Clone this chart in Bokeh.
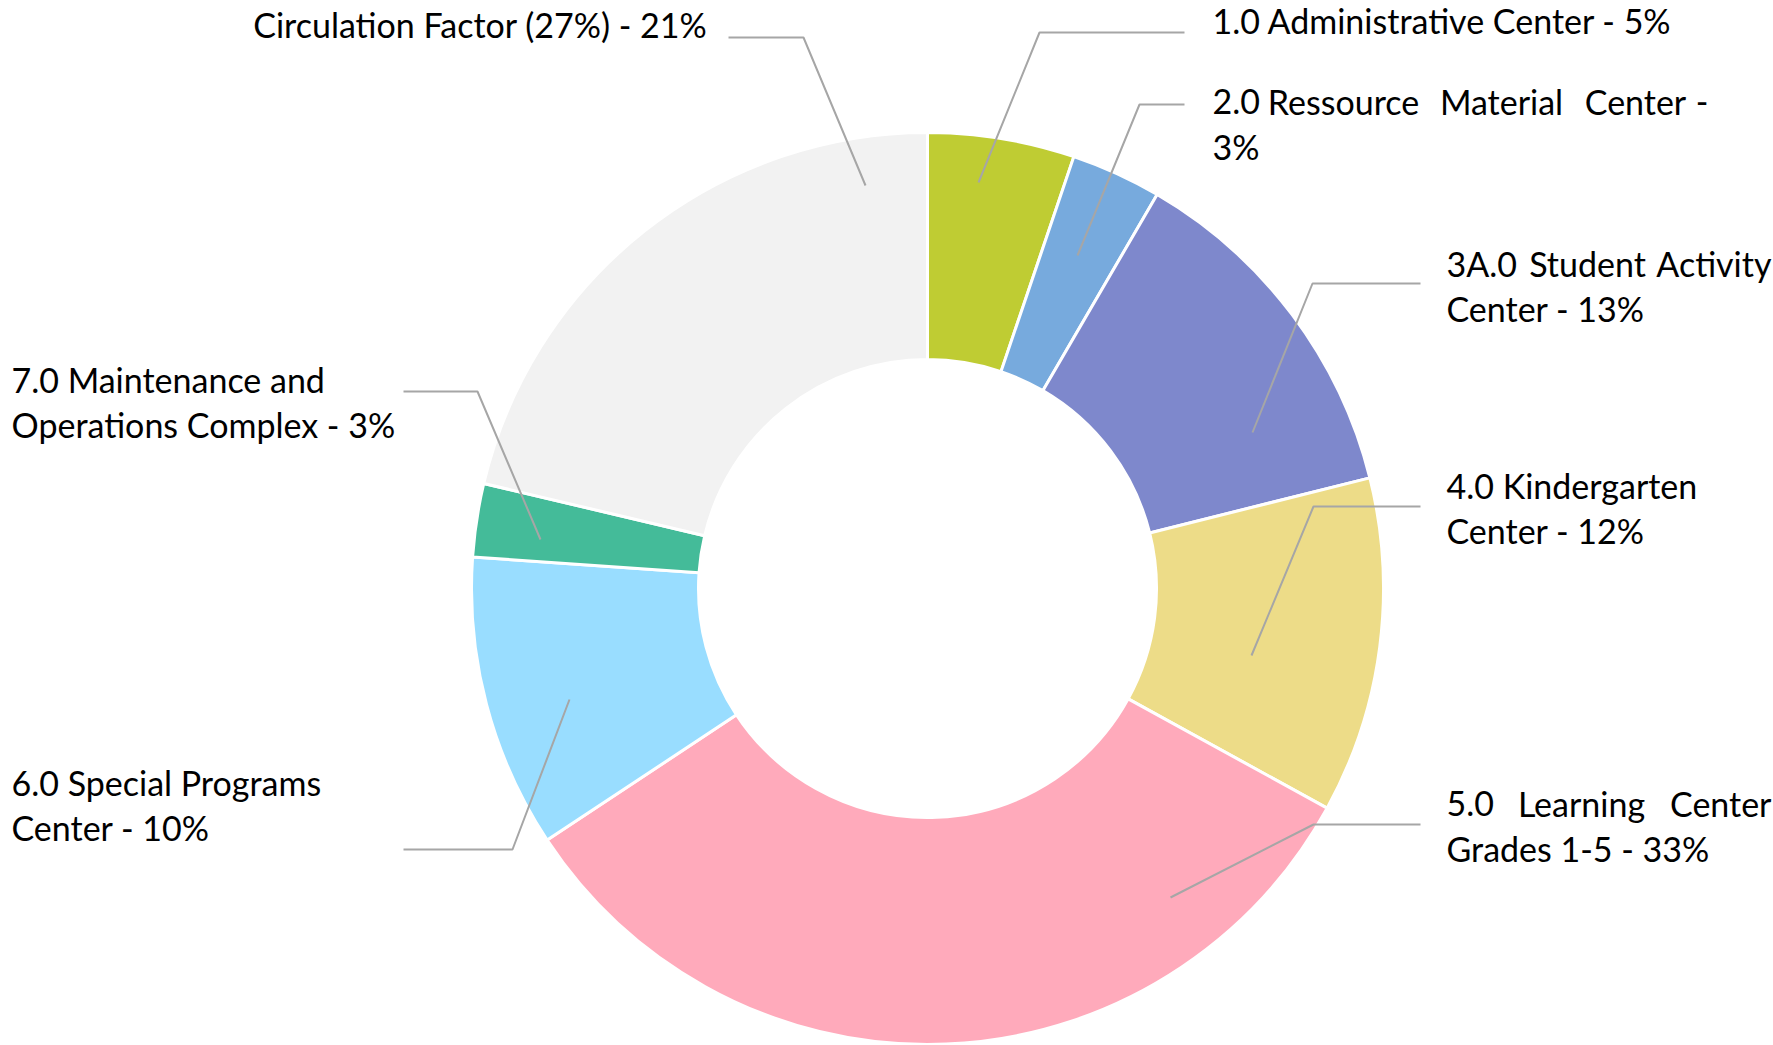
import math
from bokeh.plotting import figure
from bokeh.models import Range1d, ColumnDataSource
from bokeh.core.properties import value
from bokeh.embed import file_html
from bokeh.resources import INLINE

# ---------------- data ----------------
categories = [
    "1.0 Administrative Center",
    "2.0 Ressource Material Center",
    "3A.0 Student Activity Center",
    "4.0 Kindergarten Center",
    "5.0 Learning Center Grades 1-5",
    "6.0 Special Programs Center",
    "7.0 Maintenance and Operations Complex",
    "Circulation Factor (27%)",
]
# slice shares (%) as read from the slice boundaries
shares = [5.2, 3.2, 12.7, 11.9, 32.7, 10.4, 2.6, 21.3]
colors = ["#BFCC33", "#77AADD", "#7E88CC", "#EDDC88",
          "#FFAABB", "#99DDFF", "#44BB99", "#F2F2F2"]
label_lines = [
    ["1.0 Administrative Center - 5%"],
    ["2.0 Ressource Material Center -", "3%"],
    ["3A.0 Student Activity", "Center - 13%"],
    ["4.0 Kindergarten", "Center - 12%"],
    ["5.0 Learning Center", "Grades 1-5 - 33%"],
    ["6.0 Special Programs", "Center - 10%"],
    ["7.0 Maintenance and", "Operations Complex - 3%"],
    ["Circulation Factor (27%) - 21%"],
]

# ---------------- layout (image pixels, y down) ----------------
W, H = 1773, 1045
def Y(py):
    return H - py

CX, CY = 927, 588
R_OUT, R_IN = 456, 229
FONT = "Lato"
FSIZE = "34px"
LINE_GAP = 45

# (x, first baseline, align)
label_pos = [
    (1212, 20, "left"),
    (1212, 101, "left"),
    (1446, 263, "left"),
    (1446, 485, "left"),
    (1446, 803, "left"),
    (11, 782, "left"),
    (11, 379, "left"),
    (707, 24, "right"),
]
# justified first lines: label index -> (right edge, centers of middle words)
justify = {
    1: (1708, [1343, 1501, 1635]),
    2: (1771, [1587]),
    4: (1771, [1581]),
}
leaders = [
    [(1184, 32), (1039, 32), (978, 182)],
    [(1184, 104), (1139, 104), (1077, 255)],
    [(1420, 283), (1312, 283), (1252, 432)],
    [(1420, 506), (1313, 506), (1251, 655)],
    [(1420, 824), (1313, 824), (1170, 897)],
    [(403, 849), (512, 849), (569, 699)],
    [(403, 391), (477, 391), (540, 539)],
    [(728, 37), (803, 37), (865, 185)],
]

# ---------------- figure ----------------
p = figure(width=W, height=H, x_range=Range1d(0, W), y_range=Range1d(0, H),
           output_backend="svg", toolbar_location=None, min_border=0)
p.axis.visible = False
p.grid.visible = False
p.outline_line_color = None
p.background_fill_color = "white"
p.border_fill_color = "white"

total = float(sum(shares))
starts, ends = [], []
c = 0.0
for s in shares:
    c0, c1 = c / total, (c + s) / total
    starts.append(math.pi / 2 - 2 * math.pi * c1)
    ends.append(math.pi / 2 - 2 * math.pi * c0)
    c += s

src = ColumnDataSource(dict(cat=categories, share=shares, color=colors,
                            start=starts, end=ends))
p.annular_wedge(x=CX, y=Y(CY), inner_radius=R_IN, outer_radius=R_OUT,
                start_angle="start", end_angle="end", direction="anticlock",
                fill_color="color", line_color="white", line_width=3, source=src)

# leader lines
p.multi_line(xs=[[pt[0] for pt in l] for l in leaders],
             ys=[[Y(pt[1]) for pt in l] for l in leaders],
             line_color="#A6A6A6", line_width=2)

# labels
groups = {"left": ([], [], []), "right": ([], [], []), "center": ([], [], [])}
for i, lines in enumerate(label_lines):
    x0, b0, align = label_pos[i]
    for j, line in enumerate(lines):
        by = Y(b0 + j * LINE_GAP)
        if j == 0 and i in justify:
            right, mids = justify[i]
            words = line.split(" ")
            groups["left"][0].append(x0); groups["left"][1].append(by); groups["left"][2].append(words[0])
            for w, mx in zip(words[1:-1], mids):
                groups["center"][0].append(mx); groups["center"][1].append(by); groups["center"][2].append(w)
            groups["right"][0].append(right); groups["right"][1].append(by); groups["right"][2].append(words[-1])
        else:
            g = groups[align]
            g[0].append(x0); g[1].append(by); g[2].append(line)

for align, (xs, ys, ts) in groups.items():
    if xs:
        p.text(x=xs, y=ys, text=ts, text_font=value(FONT), text_font_size=FSIZE,
               text_align=align, text_baseline="alphabetic", text_color="#000000")

open("out.html", "w").write(file_html(p, INLINE))
